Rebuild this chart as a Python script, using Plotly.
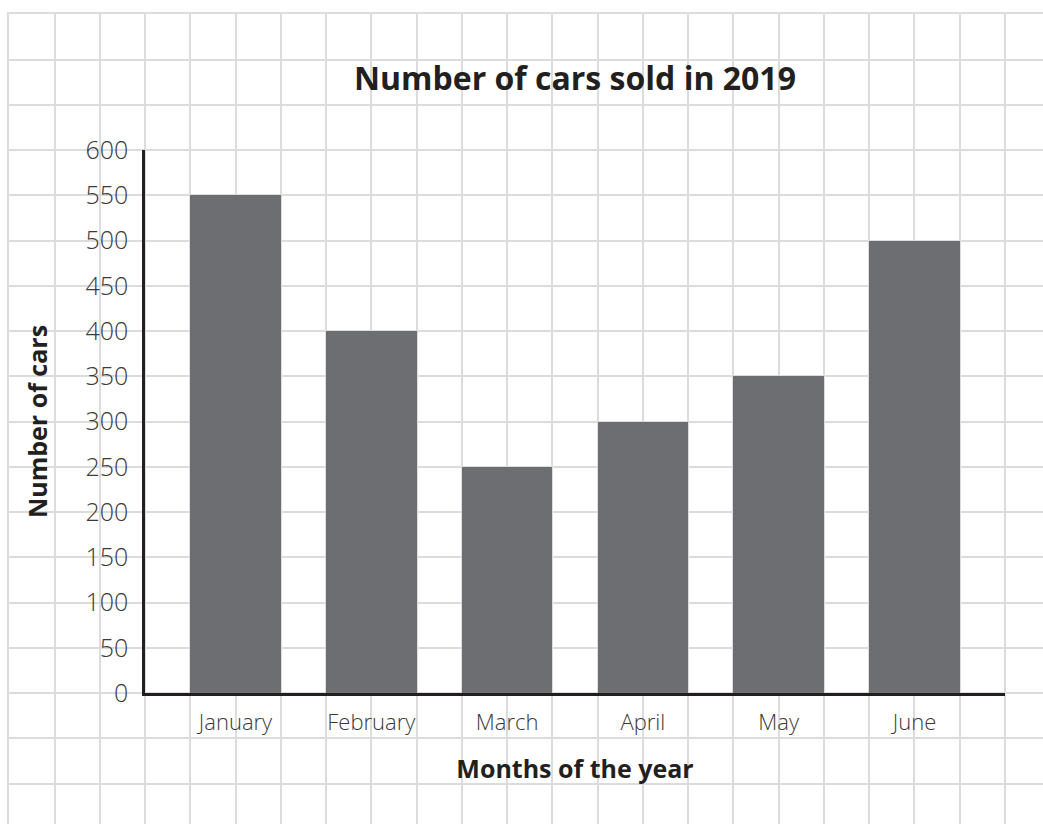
import plotly.graph_objects as go

# Monthly sales figures
months = ["January", "February", "March", "April", "May", "June"]
cars_sold = [550, 400, 250, 300, 350, 500]
y_ticks = [0, 50, 100, 150, 200, 250, 300, 350, 400, 450, 500, 550, 600]

W, H = 1043, 824
CELL = 45.25                 # graph-paper cell size in px
PLOT_L, PLOT_R = 145, 1005   # plot area in px
PLOT_T, PLOT_B = 150, 693

BAR = "#6d6e71"
INK = "#231f20"
TICK = "#3a3a3a"
GRID = "#dcdcdc"

fig = go.Figure()

# Invisible trace to anchor the full-page graph-paper axes
fig.add_trace(go.Scatter(x=[None], y=[None], xaxis="x", yaxis="y",
                         showlegend=False, hoverinfo="skip"))

# Bars are two cells wide inside a three-cell slot
fig.add_trace(go.Bar(
    x=months, y=cars_sold, xaxis="x2", yaxis="y2",
    marker=dict(color=BAR, line=dict(width=0)),
    width=2 / 3,
    showlegend=False,
))

grid_x0 = PLOT_L - 3 * CELL
grid_y0 = PLOT_T - 3 * CELL

fig.update_layout(
    width=W, height=H,
    margin=dict(l=0, r=0, t=0, b=0),
    paper_bgcolor="white",
    plot_bgcolor="rgba(0,0,0,0)",
    font=dict(family="Open Sans", color=TICK),
    bargap=0,
    # graph-paper background spanning the page; axis lines close its top/left edges
    xaxis=dict(domain=[grid_x0 / W, 1], range=[grid_x0, W], side="top",
               tick0=grid_x0, dtick=CELL, showgrid=True, gridcolor=GRID,
               gridwidth=1.5, showticklabels=False, zeroline=False,
               showline=True, linecolor=GRID, linewidth=1.5,
               ticks="", fixedrange=True),
    yaxis=dict(domain=[0, (H - grid_y0) / H], range=[H, grid_y0],
               tick0=grid_y0, dtick=CELL, showgrid=True, gridcolor=GRID,
               gridwidth=1.5, showticklabels=False, zeroline=False,
               showline=True, linecolor=GRID, linewidth=1.5,
               ticks="", fixedrange=True),
    # chart axes
    xaxis2=dict(domain=[PLOT_L / W, PLOT_R / W], anchor="y2",
                range=[-2 / 3, len(months) - 1 + 2 / 3],
                showgrid=False, zeroline=False,
                showline=True, linecolor=INK, linewidth=2.5,
                ticks="outside", ticklen=8, tickcolor="rgba(0,0,0,0)",
                tickfont=dict(family="Open Sans", size=22, color=TICK, weight=300),
                title=dict(text="Months of the year", standoff=26,
                           font=dict(family="Open Sans", size=25, color=INK, weight="bold")),
                automargin=False),
    yaxis2=dict(domain=[(H - PLOT_B) / H, (H - PLOT_T) / H], anchor="x2",
                range=[0, 600], tickvals=y_ticks,
                showgrid=False, zeroline=False,
                showline=True, linecolor=INK, linewidth=2.5,
                ticks="outside", ticklen=9, tickcolor="rgba(0,0,0,0)",
                tickfont=dict(family="Open Sans", size=25, color=TICK, weight=300),
                title=dict(text="Number of cars", standoff=31,
                           font=dict(family="Open Sans", size=25, color=INK, weight="bold")),
                automargin=False),
    title=dict(text="Number of cars sold in 2019", xref="paper",
               x=(PLOT_L + PLOT_R) / 2 / W, xanchor="center",
               yref="paper", y=1 - 79 / H, yanchor="middle",
               font=dict(family="Open Sans", size=32, color=INK, weight="bold")),
)

fig.write_html("out.html")
